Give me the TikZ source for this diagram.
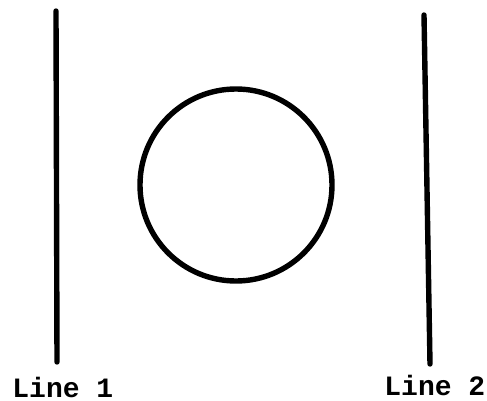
\documentclass[tikz,border=0pt]{standalone}
\usepackage{fontspec}
\newfontfamily\typefont{Liberation Mono}
\begin{document}
\begin{tikzpicture}[x=0.5pt,y=-0.5pt,
    bar/.style={line width=2.7pt,line cap=round},
    ring/.style={circle,draw,line width=2.7pt,minimum size=96pt,inner sep=0pt},
    tag/.style={font=\typefont\bfseries\fontsize{14}{14}\selectfont,inner sep=0pt,anchor=base west}]
  \useasboundingbox (0,0) rectangle (487,401);
  \draw[bar] (56,11) -- (57,362);
  \draw[bar] (424,15) -- (430,364);
  \node[ring] (disc) at (236,185) {};
  \node[tag] (tag1) at (12,397) {Line 1};
  \node[tag] (tag2) at (384,395) {Line 2};
\end{tikzpicture}
\end{document}
